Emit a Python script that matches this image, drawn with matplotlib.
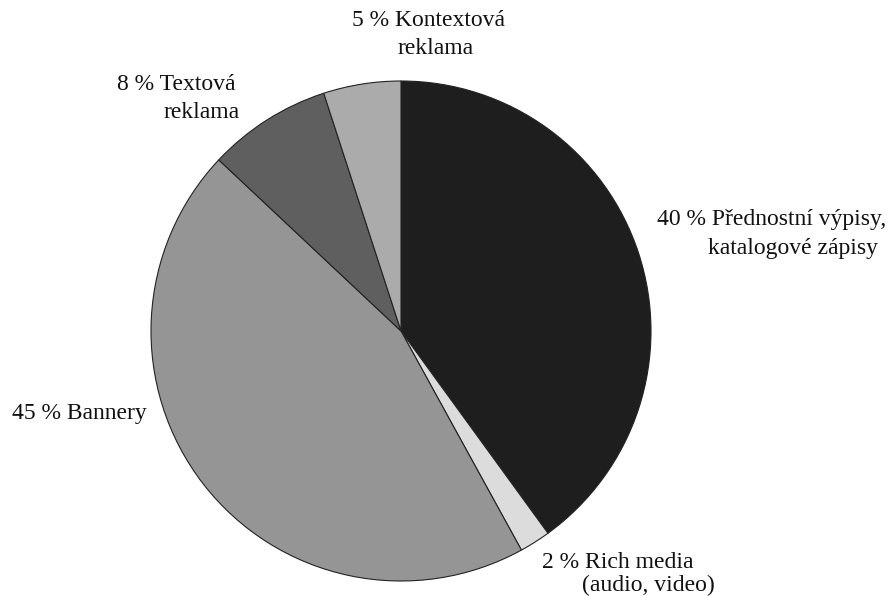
import matplotlib.pyplot as plt

# podíl jednotlivých forem internetové reklamy (%)
kategorie = ['Přednostní výpisy, katalogové zápisy', 'Rich media (audio, video)',
             'Bannery', 'Textová reklama', 'Kontextová reklama']
podily = [40, 2, 45, 8, 5]
barvy = ['#1e1e1e', '#dcdcdc', '#959595', '#5f5f5f', '#ababab']

# popisky po řádcích: (řádek, x, y) v pixelech obrázku
popisky = [
    [('%d %% Přednostní výpisy,' % podily[0], 657, 220), ('katalogové zápisy', 708, 248)],
    [('%d %% Rich media' % podily[1], 542, 562), ('(audio, video)', 582, 585)],
    [('%d %% Bannery' % podily[2], 12, 413)],
    [('%d %% Textová' % podily[3], 117, 85), ('reklama', 163, 113)],
    [('%d %% Kontextová' % podily[4], 352, 21), ('reklama', 397, 49)],
]

W, H = 892, 596
cx, cy, r = 401, 331, 250

fig = plt.figure(figsize=(W / 100, H / 100), dpi=100)
ax = fig.add_axes([(cx - r) / W, (H - cy - r) / H, 2 * r / W, 2 * r / H])
ax.pie(podily, colors=barvy, startangle=90, counterclock=False, radius=1,
       wedgeprops=dict(edgecolor='#222222', linewidth=0.8))
ax.set_xlim(-1, 1)
ax.set_ylim(-1, 1)
ax.set_aspect('equal')
ax.axis('off')

for radky in popisky:
    for text, px, py in radky:
        fig.text(px / W, 1 - py / H, text, ha='left', va='center',
                 fontsize=17, family='Liberation Serif', color='#111111')

fig.savefig('out.png', dpi=100)
